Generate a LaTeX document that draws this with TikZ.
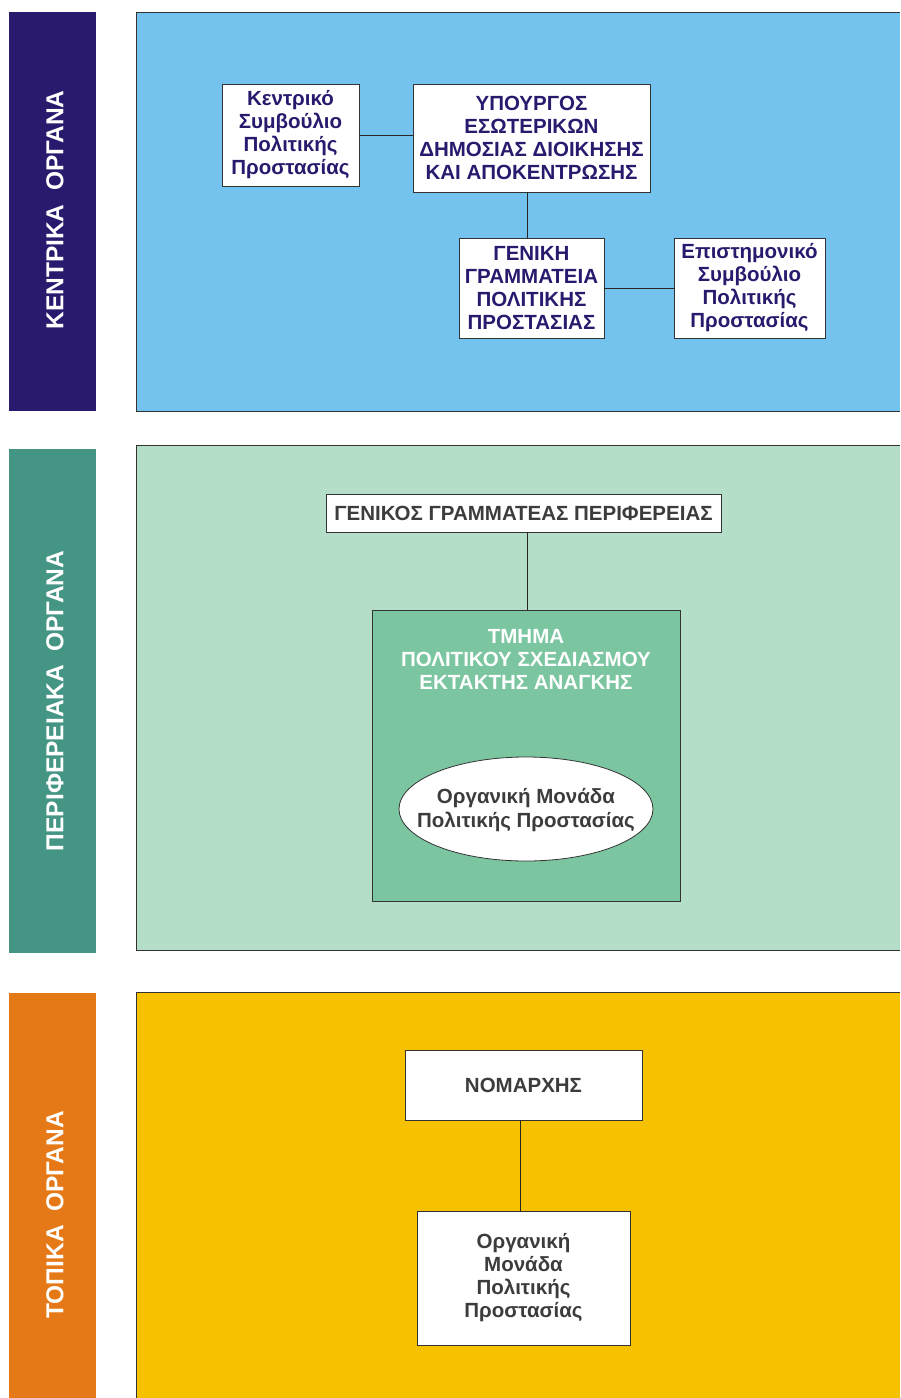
\documentclass[tikz,border=0pt]{standalone}
\usepackage{fontspec}
\setmainfont{Liberation Sans}
\usetikzlibrary{shapes.geometric}
\definecolor{navy}{HTML}{2A1A6E}
\definecolor{skyb}{HTML}{74C3EE}
\definecolor{teal2}{HTML}{459585}
\definecolor{mint}{HTML}{B5DEC9}
\definecolor{midgreen}{HTML}{7BC6A0}
\definecolor{orng}{HTML}{E57817}
\definecolor{gold}{HTML}{F6C200}
\definecolor{dgray}{HTML}{3C3C3C}
\tikzset{
  bar/.style={draw=none, minimum width=87pt, inner sep=0pt, anchor=north west},
  panel/.style={draw=black!80, line width=0.8pt, minimum width=780pt, inner sep=0pt, anchor=north west},
  barlabel/.style={text=white, font=\fontsize{24.5}{28}\selectfont\bfseries, rotate=90},
  boxfont/.style={font=\fontsize{20.5}{23}\selectfont\bfseries},
  wbox/.style={draw=black!80, line width=0.8pt, fill=white, inner sep=0pt, align=center, boxfont},
  conn/.style={draw=black!85, line width=0.8pt}
}
\begin{document}
\begin{tikzpicture}[x=1pt,y=-1pt]
\useasboundingbox (0,0) rectangle (900,1398);
\fill[white] (0,0) rectangle (900,1398);
% left bars
\node[bar, fill=navy, minimum height=399pt] (b1) at (9,12) {};
\node[bar, fill=teal2, minimum height=504pt] (b2) at (9,449) {};
\node[bar, fill=orng, minimum height=420pt] (b3) at (9,993) {};
\node[barlabel] (l1) at (55,210) {ΚΕΝΤΡΙΚΑ\hspace{0.55em}ΟΡΓΑΝΑ};
\node[barlabel] (l2) at (55,701) {ΠΕΡΙΦΕΡΕΙΑΚΑ\hspace{0.55em}ΟΡΓΑΝΑ};
\node[barlabel] (l3) at (55,1215) {ΤΟΠΙΚΑ\hspace{0.55em}ΟΡΓΑΝΑ};
% panels
\node[panel, fill=skyb, minimum height=399pt] (p1) at (136,12) {};
\node[panel, fill=mint, minimum height=505pt] (p2) at (136,445) {};
\node[panel, fill=gold, minimum height=420pt] (p3) at (136,992) {};
\fill[white] (900,0) rectangle (910,1398);
% panel 1
\node[wbox, text=navy, minimum width=137pt, minimum height=102pt] (kspp) at (290.5,135) {Κεντρικό\\Συμβούλιο\\Πολιτικής\\Προστασίας};
\node[wbox, text=navy, minimum width=237pt, minimum height=108pt] (ypes) at (531.5,138) {ΥΠΟΥΡΓΟΣ\\ΕΣΩΤΕΡΙΚΩΝ\\ΔΗΜΟΣΙΑΣ ΔΙΟΙΚΗΣΗΣ\\ΚΑΙ ΑΠΟΚΕΝΤΡΩΣΗΣ};
\node[wbox, text=navy, minimum width=145pt, minimum height=100pt] (ggpp) at (531.5,288) {ΓΕΝΙΚΗ\\ΓΡΑΜΜΑΤΕΙΑ\\ΠΟΛΙΤΙΚΗΣ\\ΠΡΟΣΤΑΣΙΑΣ};
\node[wbox, text=navy, minimum width=151pt, minimum height=100pt] (espp) at (749.5,288) {Επιστημονικό\\Συμβούλιο\\Πολιτικής\\Προστασίας};
\draw[conn] (kspp.east) -- (kspp.east -| ypes.west);
\draw[conn] ([xshift=-4.5pt]ypes.south) -- ([xshift=-4.5pt]ypes.south |- ggpp.north);
\draw[conn] (ggpp.east) -- (espp.west);
% panel 2
\node[wbox, text=dgray, minimum width=395pt, minimum height=38pt] (gen) at (523.5,513) {ΓΕΝΙΚΟΣ ΓΡΑΜΜΑΤΕΑΣ ΠΕΡΙΦΕΡΕΙΑΣ};
\node[wbox, fill=midgreen, minimum width=308pt, minimum height=291pt] (tm) at (526,755.5) {};
\node[align=center, text=white, inner sep=0pt, boxfont] (tmt) at (526,659) {ΤΜΗΜΑ\\ΠΟΛΙΤΙΚΟΥ ΣΧΕΔΙΑΣΜΟΥ\\ΕΚΤΑΚΤΗΣ ΑΝΑΓΚΗΣ};
\node[wbox, ellipse, minimum width=254pt, minimum height=104pt] (om) at (526,809) {};
\node[align=center, text=dgray, inner sep=0pt, font=\fontsize{20.5}{24}\selectfont\bfseries] (omt) at (526,810) {Οργανική Μονάδα\\Πολιτικής Προστασίας};
\draw[conn] ([xshift=3.5pt]gen.south) -- ([xshift=3.5pt]gen.south |- tm.north);
% panel 3
\node[wbox, text=dgray, minimum width=237pt, minimum height=70pt] (nom) at (523.5,1085) {ΝΟΜΑΡΧΗΣ};
\node[wbox, text=dgray, minimum width=213pt, minimum height=134pt] (org) at (523.5,1278) {Οργανική\\Μονάδα\\Πολιτικής\\Προστασίας};
\draw[conn] ([xshift=-3.5pt]nom.south) -- ([xshift=-3.5pt]nom.south |- org.north);
\end{tikzpicture}
\end{document}
